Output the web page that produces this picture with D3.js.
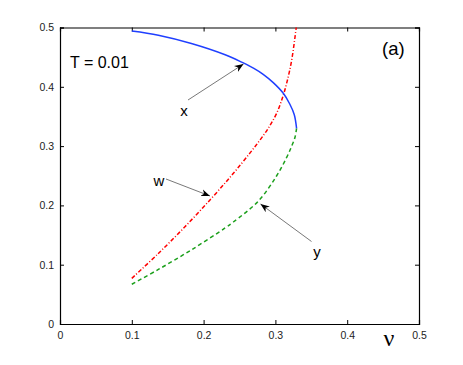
<!DOCTYPE html>
<html>
<head>
<meta charset="utf-8">
<script src="https://cdn.jsdelivr.net/npm/d3@7"></script>
<style>
  body { margin: 0; background: #fff; }
  svg text { font-family: "Liberation Sans", Arial, sans-serif; }
</style>
</head>
<body>
<div id="chart"></div>
<script>
// curve x (blue, solid)
var nuX = [0.1, 0.137, 0.183, 0.23, 0.253, 0.27, 0.283, 0.297, 0.311, 0.32, 0.3263, 0.3295];
var valX = [0.494, 0.487, 0.473, 0.454, 0.4415, 0.431, 0.421, 0.407, 0.389, 0.371, 0.353, 0.33];

// curve w (red, dash-dot)
var nuW = [0.1, 0.137, 0.174, 0.211, 0.24, 0.265, 0.279, 0.29, 0.302, 0.311, 0.3165, 0.3227, 0.329];
var valW = [0.077, 0.119, 0.164, 0.212, 0.252, 0.289, 0.311, 0.33, 0.356, 0.386, 0.41, 0.445, 0.5];

// curve y (green, dashed)
var nuY = [0.1, 0.137, 0.183, 0.23, 0.2414, 0.276, 0.3018, 0.3157, 0.3227, 0.3273, 0.3295];
var valY = [0.067, 0.092, 0.125, 0.162, 0.172, 0.207, 0.25, 0.281, 0.3, 0.315, 0.33];

var xTicks = [0, 0.1, 0.2, 0.3, 0.4, 0.5];
var yTicks = [0, 0.1, 0.2, 0.3, 0.4, 0.5];

var width = 463, height = 365;
var mLeft = 60, mRight = 419, mTop = 27.5, mBottom = 324;

var svg = d3.select("#chart").append("svg")
    .attr("width", width)
    .attr("height", height);

var xScale = d3.scaleLinear().domain([0, 0.5]).range([mLeft, mRight]);
var yScale = d3.scaleLinear().domain([0, 0.5]).range([mBottom, mTop]);

var fmt = function(d) { return d === 0 ? "0" : d3.format(".1f")(d); };

// axes, ticks pointing inward
var gx = svg.append("g").attr("transform", "translate(0," + mBottom + ")")
    .call(d3.axisBottom(xScale).tickValues(xTicks).tickSize(-4).tickPadding(8).tickFormat(fmt));
var gy = svg.append("g").attr("transform", "translate(" + mLeft + ",0)")
    .call(d3.axisLeft(yScale).tickValues(yTicks).tickSize(-4).tickPadding(6).tickFormat(fmt));
var gt = svg.append("g").attr("transform", "translate(0," + mTop + ")")
    .call(d3.axisTop(xScale).tickValues(xTicks).tickSize(-4).tickFormat(""));
var gr = svg.append("g").attr("transform", "translate(" + mRight + ",0)")
    .call(d3.axisRight(yScale).tickValues(yTicks).tickSize(-4).tickFormat(""));

[gx, gy, gt, gr].forEach(function(g) {
    g.select(".domain").attr("stroke", "#000").attr("stroke-width", 1.2);
    g.selectAll(".tick line").attr("stroke", "#000").attr("stroke-width", 1);
    g.selectAll(".tick text").attr("fill", "#222").style("font-size", "10.5px");
});

function series(nu, val) {
    return nu.map(function(d, i) { return [d, val[i]]; });
}

var line = d3.line()
    .x(function(d) { return xScale(d[0]); })
    .y(function(d) { return yScale(d[1]); })
    .curve(d3.curveCatmullRom.alpha(0.5));

svg.append("path").datum(series(nuW, valW))
    .attr("d", line).attr("fill", "none")
    .attr("stroke", "#ff0000").attr("stroke-width", 1.5)
    .attr("stroke-dasharray", "4,2,1,2");

svg.append("path").datum(series(nuY, valY))
    .attr("d", line).attr("fill", "none")
    .attr("stroke", "#1ca01c").attr("stroke-width", 1.5)
    .attr("stroke-dasharray", "4,3");

svg.append("path").datum(series(nuX, valX))
    .attr("d", line).attr("fill", "none")
    .attr("stroke", "#1f3fff").attr("stroke-width", 1.5);

// arrow marker
svg.append("defs").append("marker")
    .attr("id", "arr")
    .attr("viewBox", "0 0 10 10")
    .attr("refX", 10).attr("refY", 5)
    .attr("markerWidth", 9).attr("markerHeight", 9)
    .attr("markerUnits", "userSpaceOnUse")
    .attr("orient", "auto")
    .append("path").attr("d", "M0,1 L10,5 L0,9 L3,5 Z").attr("fill", "#000");

var arrows = [
    [188, 100, 243.5, 64],
    [166, 179, 210, 196],
    [311.5, 241.5, 260.5, 204]
];
svg.selectAll(".arrow").data(arrows).enter().append("line")
    .attr("x1", function(d) { return d[0]; })
    .attr("y1", function(d) { return d[1]; })
    .attr("x2", function(d) { return d[2]; })
    .attr("y2", function(d) { return d[3]; })
    .attr("stroke", "#555").attr("stroke-width", 0.8)
    .attr("marker-end", "url(#arr)");

svg.append("text").attr("x", 184).attr("y", 116).attr("text-anchor", "middle")
    .style("font-size", "15px").text("x");
svg.append("text").attr("x", 159).attr("y", 186).attr("text-anchor", "middle")
    .style("font-size", "15px").text("w");
svg.append("text").attr("x", 317).attr("y", 257).attr("text-anchor", "middle")
    .style("font-size", "15px").text("y");

svg.append("text").attr("x", 70).attr("y", 67.5)
    .style("font-size", "16px").text("T = 0.01");
svg.append("text").attr("x", 382).attr("y", 54.5)
    .style("font-size", "18.5px").text("(a)");

svg.append("text").attr("x", 389).attr("y", 346).attr("text-anchor", "middle")
    .style("font-family", "'Liberation Serif', serif")
    .style("font-size", "24px").text("ν");
</script>
</body>
</html>
